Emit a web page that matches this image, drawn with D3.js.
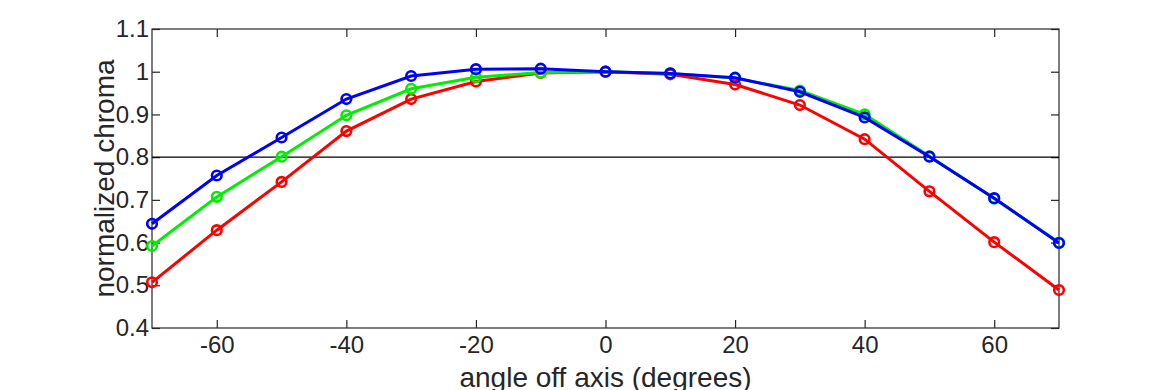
<!DOCTYPE html>
<html>
<head>
  <meta charset="utf-8" />
  <script src="https://d3js.org/d3.v7.min.js"></script>
  <style>
    body { margin: 0; background: white; }
    svg text { font-family: "Liberation Sans", Arial, sans-serif; fill: #262626; }
  </style>
</head>
<body>
  <svg id="chart" width="1170" height="390"></svg>
  <script>
    // data
    const angles = [-70, -60, -50, -40, -30, -20, -10, 0, 10, 20, 30, 40, 50, 60, 70];
    const redChroma = [0.507, 0.629, 0.742, 0.861, 0.936, 0.977, 0.997, 1.0, 0.994, 0.970, 0.922, 0.842, 0.720, 0.601, 0.489];
    const greenChroma = [0.592, 0.707, 0.801, 0.898, 0.960, 0.987, 0.998, 1.0, 0.996, 0.985, 0.956, 0.900, 0.802, 0.703, 0.600];
    const blueChroma = [0.644, 0.757, 0.846, 0.936, 0.990, 1.006, 1.007, 1.0, 0.996, 0.986, 0.953, 0.893, 0.801, 0.704, 0.599];
    const xTicks = [-60, -40, -20, 0, 20, 40, 60];
    const yTicks = [0.4, 0.5, 0.6, 0.7, 0.8, 0.9, 1.0, 1.1];
    const refLevel = 0.8;

    const svg = d3.select("#chart");
    const margin = { top: 29, right: 111, bottom: 62, left: 152 };
    const w = 1170 - margin.left - margin.right;
    const h = 390 - margin.top - margin.bottom;

    const x = d3.scaleLinear().domain([-70, 70]).range([0, w]);
    const y = d3.scaleLinear().domain([0.4, 1.1]).range([h, 0]);

    const g = svg.append("g")
      .attr("transform", "translate(" + margin.left + "," + margin.top + ")");

    // axes with inward ticks on all four sides
    const yFmt = d => d === 1 ? "1" : d3.format(".1f")(d);
    const xFmt = d => String(d); // plain hyphen, not unicode minus
    const axisStyle = sel => {
      sel.select(".domain").remove();
      sel.selectAll(".tick line").attr("stroke", "#262626").attr("stroke-width", 1.2);
      sel.selectAll(".tick text").style("font-size", "24px");
    };
    g.append("g").attr("transform", "translate(0," + h + ")")
      .call(d3.axisBottom(x).tickValues(xTicks).tickSizeInner(-8).tickPadding(8).tickFormat(xFmt))
      .call(axisStyle);
    g.append("g")
      .call(d3.axisTop(x).tickValues(xTicks).tickSizeInner(-8).tickFormat(""))
      .call(axisStyle);
    g.append("g")
      .call(d3.axisLeft(y).tickValues(yTicks).tickSizeInner(-8).tickPadding(3).tickFormat(yFmt))
      .call(axisStyle);
    g.append("g").attr("transform", "translate(" + w + ",0)")
      .call(d3.axisRight(y).tickValues(yTicks).tickSizeInner(-8).tickFormat(""))
      .call(axisStyle);

    g.append("rect")
      .attr("width", w).attr("height", h)
      .attr("fill", "none").attr("stroke", "#262626").attr("stroke-width", 1.2);

    // reference line
    g.append("line")
      .attr("x1", 0).attr("x2", w)
      .attr("y1", y(refLevel)).attr("y2", y(refLevel))
      .attr("stroke", "black").attr("stroke-width", 1.2);

    const series = [
      { color: "#ff0000", values: redChroma },
      { color: "#00ee00", values: greenChroma },
      { color: "#0000ff", values: blueChroma }
    ];

    const line = d3.line().x(d => x(d[0])).y(d => y(d[1]));

    series.forEach(s => {
      const pts = angles.map((a, i) => [a, s.values[i]]);
      g.append("path").datum(pts)
        .attr("fill", "none")
        .attr("stroke", s.color)
        .attr("stroke-width", 3)
        .attr("d", line);
      g.selectAll(null).data(pts)
        .join("circle")
        .attr("cx", d => x(d[0]))
        .attr("cy", d => y(d[1]))
        .attr("r", 4.8)
        .attr("fill", "none")
        .attr("stroke", s.color)
        .attr("stroke-width", 2.6);
    });

    // axis labels
    svg.append("text")
      .attr("x", margin.left + w / 2)
      .attr("y", 387)
      .attr("text-anchor", "middle")
      .style("font-size", "28px")
      .text("angle off axis (degrees)");

    svg.append("text")
      .attr("transform", "translate(114," + (margin.top + h / 2) + ")rotate(-90)")
      .attr("text-anchor", "middle")
      .style("font-size", "28px")
      .text("normalized chroma");
  </script>
</body>
</html>
